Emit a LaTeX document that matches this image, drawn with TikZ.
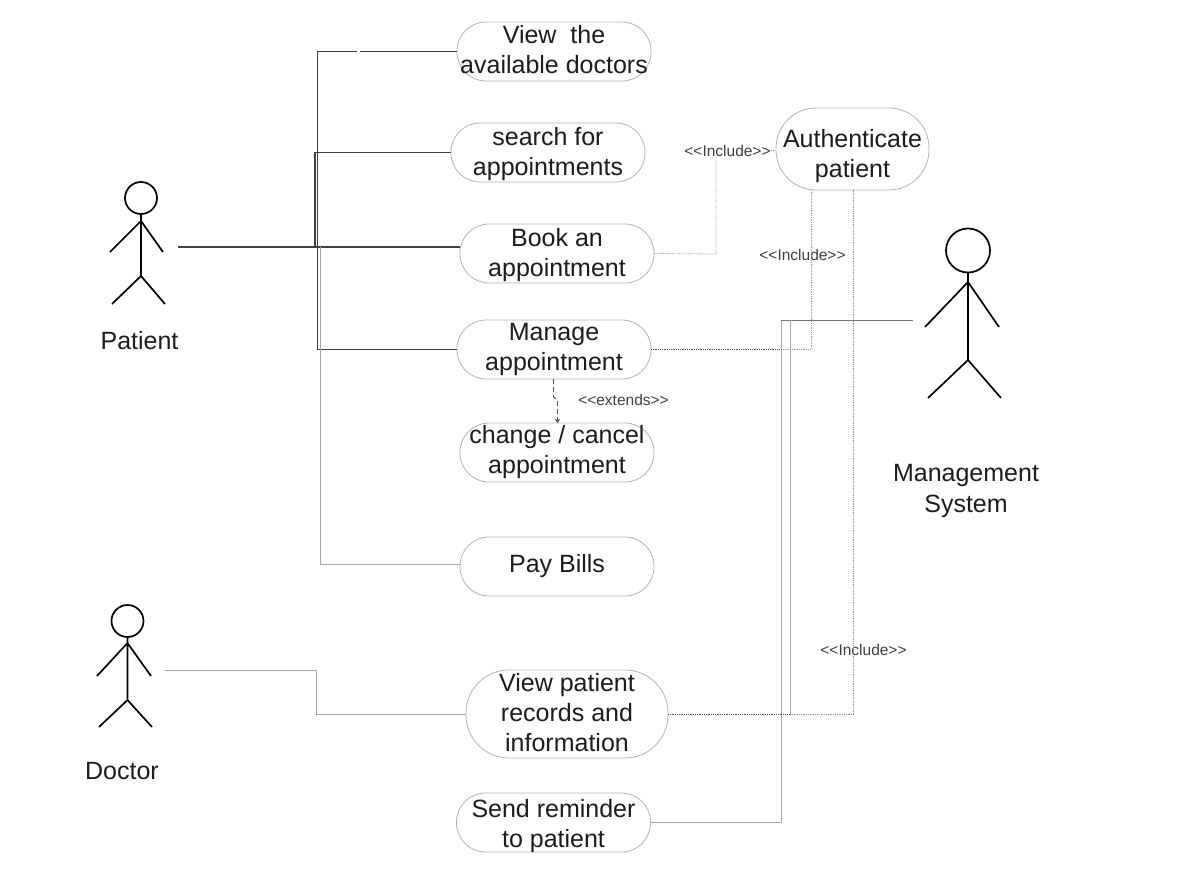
\documentclass[tikz,border=0pt]{standalone}
\usepackage{fontspec}
\setmainfont{Liberation Sans}
\usetikzlibrary{arrows.meta,calc}
\definecolor{inkc}{HTML}{1C1C1C}
\definecolor{edgec}{HTML}{B4B4B4}
\newcommand\uctext[2]{\raisebox{\dimexpr#1-6.25pt\relax}[0pt][0pt]{\begin{tabular}{@{}c@{}}#2\end{tabular}}}
\tikzset{
  usecase/.style={draw=edgec,line width=0.8pt,fill=white,text=inkc,align=center,inner sep=0pt,outer sep=0pt,
    minimum width=194pt,minimum height=59pt,rounded corners=29pt,font=\fontsize{25}{30}\selectfont},
  actorlabel/.style={text=inkc,inner sep=0pt,font=\fontsize{25}{30}\selectfont},
  steretype/.style={text=inkc!85,inner sep=0pt,font=\fontsize{15.5}{18}\selectfont},
  actorline/.style={black,line width=1.7pt},
  darkconn/.style={draw=black!75,line width=1.1pt},
  midconn/.style={draw=black!55,line width=0.9pt},
  greyconn/.style={draw=black!35,line width=0.8pt},
  dotconn/.style={draw=black!40,line width=0.8pt,densely dotted},
  dotdark/.style={draw=black!70,line width=0.8pt,densely dotted},
}
\begin{document}
\begin{tikzpicture}[x=1pt,y=-1pt]
\useasboundingbox (0,0) rectangle (1185,870);
% connectors' free ends
\coordinate (pport) at (178,247);
\coordinate (dport) at (165,670);
\coordinate (mport) at (913,320);
\coordinate (trunk) at (317.5,247);
\node[usecase] (view) at (554,51.5) {\uctext{-1pt}{View\ \ the\\available doctors}};
\node[usecase] (search) at (548,152.5) {\uctext{-2pt}{search for\\appointments}};
\node[usecase] (book) at (557,253.5) {\uctext{-1.5pt}{Book an\\appointment}};
\node[usecase] (manage) at (554,349.5) {\uctext{0pt}{Manage\\appointment}};
\node[usecase] (change) at (557,452.5) {\uctext{0pt}{change / cancel\\appointment}};
\node[usecase] (pay) at (557,566.5) {\uctext{0pt}{Pay Bills}};
\node[usecase,minimum width=202pt,minimum height=88pt,rounded corners=43pt] (records) at (567,714) {\uctext{-1pt}{View patient\\records and\\information}};
\node[usecase] (send) at (553.5,822.5) {\uctext{-4pt}{Send reminder\\to patient}};
\node[usecase,minimum width=153pt,minimum height=82pt,rounded corners=40pt] (auth) at (852.5,149) {\uctext{-7pt}{Authenticate\\patient}};

\node[steretype] (inc1) at (727.5,150.5) {<{}<Include>{}>};
\node[steretype] (inc2) at (802.5,254.5) {<{}<Include>{}>};
\node[steretype] (inc3) at (863.5,649.5) {<{}<Include>{}>};
\node[steretype] (ext) at (623.5,399.5) {<{}<extends>{}>};

% patient links
\draw[darkconn] (pport) -- (pport -| book.west);
\draw[darkconn] (view.west) -- (view.west -| trunk) -- (manage.west -| trunk) -- (manage.west);
\draw[darkconn] (search.west) -- ($(search.west -| trunk)+(-2.5,0)$) -- ($(trunk)+(-2.5,0)$);
\draw[greyconn] ($(pay.west)+(0,-2.5)$) -- ($(pay.west -| trunk)+(2.5,-2.5)$) -- ($(trunk)+(2.5,0)$);
\fill[white] (357,50) rectangle (360,52);
% doctor link
\draw[greyconn] (dport) -- (dport -| 316,0) -- (316,714) -- (records.west);
% management system links
\draw[greyconn] (send.east) -- (781,822.5) -- (781,320) -- (mport);
\draw[midconn] (781,320) -- (mport);
\draw[greyconn] (790,714) -- (790,320);
\draw[dotdark] (records.east) -- (790,714);
\draw[dotconn] (790,714) -- (853,714) -- (auth.south -| 853,0);
\draw[dotdark] (manage.east) -- (781,349.5);
\draw[dotconn] (781,349.5) -- (811,349.5) -- (811,190);
% include from booking
\draw[dotconn] (book.east) -- (716,254) -- (716,157);
\draw[dotconn] (inc1.east) -- (auth.west |- inc1.east);
% extends
\draw[draw=black!70,line width=0.9pt,dash pattern=on 5pt off 3pt,-{Straight Barb[length=3pt,width=4pt]}] (553.5,379) -- (553.5,397) -- (557.5,400) -- (557.5,423);

% Patient
\node[actorlabel] (patientname) at (139.5,340.5) {Patient};
\draw[actorline] (141,198) circle (16);
\draw[actorline] (141,214) -- (141,276) (110,252) -- (141,221) -- (163,252) (112,304) -- (141,276) -- (165,304);
% Doctor
\node[actorlabel] (doctorname) at (122,771) {Doctor};
\draw[actorline] (127.5,621) circle (16);
\draw[actorline] (127.5,637) -- (127.5,700) (97,676) -- (127.5,643) -- (151,676) (99,727) -- (127.5,700) -- (152,727);
% Management system
\node[actorlabel,align=center] (mgmtname) at (966,490.5) {Management\\[1pt]System};
\draw[actorline] (968,250.5) circle (22);
\draw[actorline] (968,272.5) -- (968,360) (925,327) -- (968,282) -- (999,327) (928,398) -- (968,360) -- (1001,398);
\end{tikzpicture}
\end{document}
